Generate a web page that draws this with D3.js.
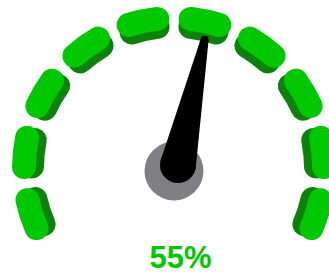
<!DOCTYPE html>
<html>
<head>
<meta charset="utf-8">
<script src="https://cdn.jsdelivr.net/npm/d3@7"></script>
<style>
  html, body { margin: 0; padding: 0; background: #fff; }
  svg { display: block; }
</style>
</head>
<body>
<svg id="gauge" width="329" height="274"></svg>
<script>
// gauge data
const gaugeValue = 55;
const gaugeDomain = [0, 100];
const segmentSteps = [0, 10, 20, 30, 40, 50, 60, 70, 80, 90];
const valueLabel = ['55%'];

const svg = d3.select('#gauge');
const cx = 174, cy = 168;

const angle = d3.scaleLinear()
  .domain(gaugeDomain)
  .range([-120, 120].map(d => d * Math.PI / 180));

const step = 10;
const pad = 1.8 * Math.PI / 180;

const g = svg.append('g').attr('transform', `translate(${cx},${cy})`);

// dark "side" of each segment, shifted inward
const darkArc = d3.arc()
  .innerRadius(130)
  .outerRadius(154)
  .cornerRadius(12)
  .startAngle(d => angle(d) + pad)
  .endAngle(d => angle(d + step) - pad);

const faceArc = d3.arc()
  .innerRadius(138)
  .outerRadius(162)
  .cornerRadius(12)
  .startAngle(d => angle(d) + pad)
  .endAngle(d => angle(d + step) - pad);

g.append('g').selectAll('path')
  .data(segmentSteps)
  .enter().append('path')
    .attr('d', darkArc)
    .attr('fill', '#0c820c');

g.append('g').selectAll('path')
  .data(segmentSteps)
  .enter().append('path')
    .attr('d', faceArc)
    .attr('fill', '#00c800');

// hub
g.append('circle')
  .attr('cx', 0)
  .attr('cy', 3)
  .attr('r', 29.5)
  .attr('fill', '#808084');

// needle
const a = angle(gaugeValue);
const len = 128, rBase = 18, rTip = 4;
const ux = Math.sin(a), uy = -Math.cos(a);
const px = -uy, py = ux;
const tx = ux * len, ty = uy * len;
const needle = g.append('g').attr('transform', 'translate(4,-3)');
needle.append('path')
  .attr('d', `M${px * rBase},${py * rBase}L${tx + px * rTip},${ty + py * rTip}` +
    `L${tx - px * rTip},${ty - py * rTip}L${-px * rBase},${-py * rBase}Z`)
  .attr('fill', '#000');
needle.append('circle').attr('r', rBase).attr('fill', '#000');
needle.append('circle').attr('cx', tx).attr('cy', ty).attr('r', rTip).attr('fill', '#000');

svg.append('text')
  .data(valueLabel)
  .attr('x', 180.5)
  .attr('y', 268)
  .attr('text-anchor', 'middle')
  .attr('font-family', '"Liberation Sans", Arial, sans-serif')
  .attr('font-weight', 'bold')
  .attr('font-size', 31)
  .attr('fill', '#00c800')
  .text(d => d);
</script>
</body>
</html>
